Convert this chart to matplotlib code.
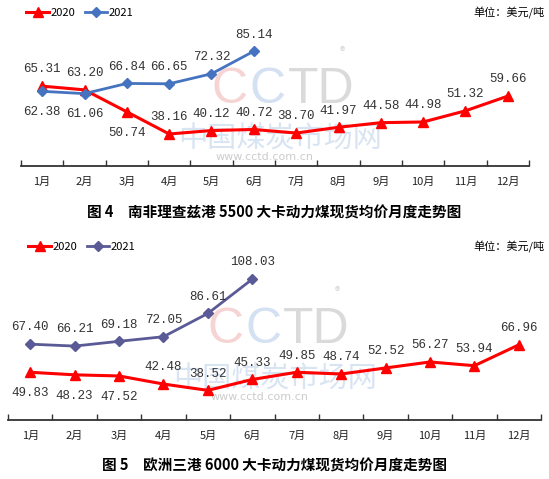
import matplotlib
matplotlib.use('Agg')
import matplotlib.pyplot as plt
import numpy as np

plt.rcParams['font.family'] = ['Noto Sans CJK SC', 'DejaVu Sans']

# data
months = ['1月', '2月', '3月', '4月', '5月', '6月', '7月', '8月', '9月', '10月', '11月', '12月']
sa_2020 = [65.31, 63.20, 50.74, 38.16, 40.12, 40.72, 38.70, 41.97, 44.58, 44.98, 51.32, 59.66]
sa_2021 = [62.38, 61.06, 66.84, 66.65, 72.32, 85.14]
eu_2020 = [49.83, 48.23, 47.52, 42.48, 38.52, 45.33, 49.85, 48.74, 52.52, 56.27, 53.94, 66.96]
eu_2021 = [67.40, 66.21, 69.18, 72.05, 86.61, 108.03]

# label placement ('b' = below the point)
sa_2020_pos = ['a', 'a', 'b', 'a', 'a', 'a', 'a', 'a', 'a', 'a', 'a', 'a']
sa_2021_pos = ['b', 'b', 'a', 'a', 'a', 'a']
eu_2020_pos = ['b', 'b', 'b', 'a', 'a', 'a', 'a', 'a', 'a', 'a', 'a', 'a']
eu_2021_pos = ['a', 'a', 'a', 'a', 'a', 'a']

W, H = 549, 479
RED = '#ff0000'


def fx(x):
    return x / W


def fy(y):
    return 1 - y / H


fig = plt.figure(figsize=(W / 100, H / 100), dpi=100)


def add_labels(ax, vals, pos):
    for i, (v, p) in enumerate(zip(vals, pos)):
        dy = 12 if p == 'a' else -15
        ax.annotate('%.2f' % v, (i, v), xytext=(0, dy), textcoords='offset points',
                    ha='center', va='center', fontsize=9, family='Liberation Mono',
                    color='#333333', zorder=5)


def watermark(ax, cx, cy):
    # faint CCTD logo behind the lines
    kw = dict(transform=fig.transFigure, fontsize=36, family='Liberation Sans',
              va='center', ha='left', zorder=0)
    ax.text(fx(cx - 68), fy(cy), 'C', color='#f7d4d4', **kw)
    ax.text(fx(cx - 30), fy(cy), 'C', color='#d4e1f2', **kw)
    ax.text(fx(cx + 8), fy(cy), 'TD', color='#dadada', **kw)
    ax.text(fx(cx + 62), fy(cy - 38), '®', color='#d0d0d0', fontsize=8,
            transform=fig.transFigure, ha='center', va='center', zorder=0)
    ax.text(fx(cx), fy(cy + 50), '中国煤炭市场网', color='#d9e4f3', fontsize=21,
            transform=fig.transFigure, ha='center', va='center', zorder=0)
    ax.text(fx(cx - 15), fy(cy + 67), 'www.cctd.com.cn', color='#cccccc', fontsize=8,
            family='DejaVu Sans', transform=fig.transFigure, ha='center', va='center', zorder=0)


def panel(rect, s2020, s2021, pos2020, pos2021, c2021, ylim, leg_x, leg_y, cap_y, caption, wm):
    ax = fig.add_axes(rect)
    ax.set_facecolor('none')
    x = np.arange(len(months))
    watermark(ax, *wm)
    ax.plot(x[:len(s2020)], s2020, color=RED, lw=2.2, marker='^', ms=7, label='2020', zorder=3)
    ax.plot(x[:len(s2021)], s2021, color=c2021, lw=2.0, marker='D', ms=5.5, label='2021', zorder=3)
    add_labels(ax, s2020, pos2020)
    add_labels(ax, s2021, pos2021)

    ax.set_xlim(-0.5, len(months) - 0.5)
    ax.set_ylim(*ylim)
    for s in ['left', 'right', 'top']:
        ax.spines[s].set_visible(False)
    ax.spines['bottom'].set_color('#333333')
    ax.spines['bottom'].set_linewidth(1.3)
    ax.set_yticks([])
    ax.set_xticks(np.arange(-0.5, len(months)))
    ax.set_xticklabels([])
    ax.tick_params(axis='x', which='major', direction='in', length=4, width=1, color='#333333')
    ax.set_xticks(x, minor=True)
    ax.set_xticklabels(months, minor=True, fontsize=8, color='#222222')
    ax.tick_params(axis='x', which='minor', length=0, pad=8)

    ax.legend(loc='center left', bbox_to_anchor=(fx(leg_x), fy(leg_y)), bbox_transform=fig.transFigure,
              ncol=2, frameon=False, fontsize=8, handlelength=2.0, handletextpad=0.2,
              columnspacing=0.8, borderaxespad=0)
    fig.text(fx(544), fy(leg_y), '单位：美元/吨', fontsize=8, ha='right', va='center')
    fig.text(0.5, fy(cap_y), caption, fontsize=10.5, fontweight='bold', ha='center', va='center')
    return ax


panel([fx(21), fy(166), fx(508), 141 / H], sa_2020, sa_2021, sa_2020_pos, sa_2021_pos,
      '#4673bf', (20, 100), 22, 13, 213, '图 4　南非理查兹港 5500 大卡动力煤现货均价月度走势图', (280, 90))
panel([fx(8), fy(420), fx(533), 160 / H], eu_2020, eu_2021, eu_2020_pos, eu_2021_pos,
      '#5a5a96', (20, 120), 24, 247, 466, '图 5　欧洲三港 6000 大卡动力煤现货均价月度走势图', (275, 330))

fig.savefig('out.png', dpi=100)
